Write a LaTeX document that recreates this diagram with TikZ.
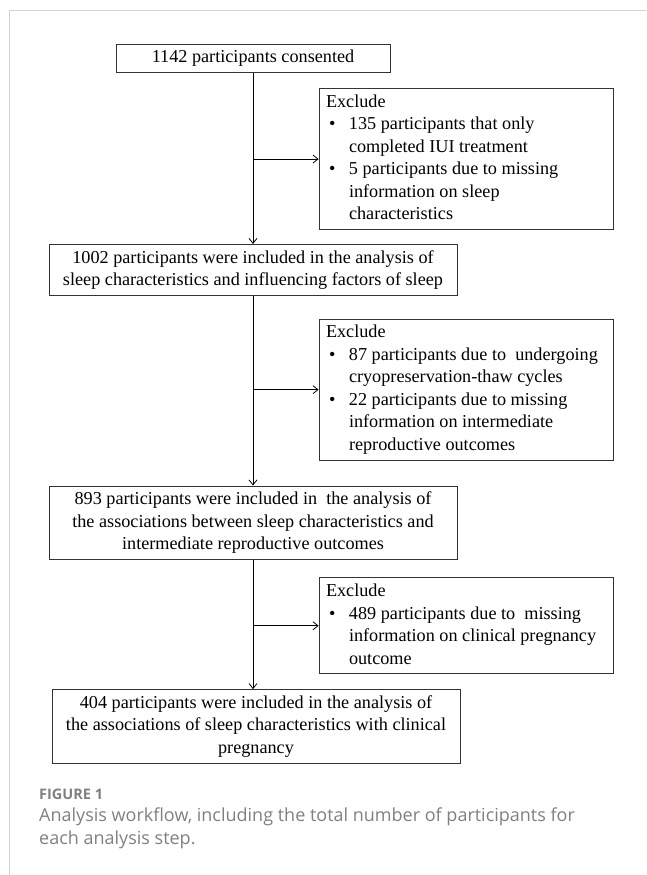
\documentclass[tikz,border=0pt]{standalone}
\usepackage{fontspec}
\setmainfont{Liberation Serif}
\newfontfamily\capfont{Open Sans}
\usepackage{xcolor}
\usepackage{tikz}
\usetikzlibrary{arrows.meta,positioning}

\definecolor{capgray}{HTML}{808080}
\definecolor{framegray}{HTML}{D3D3D3}
\newcommand{\exbul}{\makebox[23pt][l]{\hspace{3pt}\textbullet}}
\newcommand{\exind}{\hspace*{23pt}}

\begin{document}
\begin{tikzpicture}[
  x=1pt, y=-1pt,
  font=\fontsize{18.2}{22.5}\selectfont,
  stage/.style={draw=black!80, line width=0.8pt, align=flush center, text width=#1, inner xsep=4pt, inner ysep=3pt,
    execute at begin node=\strut, execute at end node=\strut},
  excl/.style={draw=black!80, line width=0.8pt, align=flush left, text width=280pt, inner xsep=7pt, inner ysep=3pt,
    execute at begin node=\strut, execute at end node=\strut},
  arr/.style={-{Straight Barb[length=5pt,width=8pt]}, line width=0.8pt},
  figlbl/.style={font=\capfont\bfseries\fontsize{14.5}{17}\selectfont, text=capgray, inner sep=0pt},
  figcap/.style={font=\capfont\fontsize{18}{22.5}\selectfont, text=capgray, align=flush left, inner sep=0pt}
]
\useasboundingbox (0,0) rectangle (646,875);
\draw[framegray, line width=1pt] (9,875) -- (9,11) -- (646,11);

\node[stage=266pt] (consent) at (253,58.5) {1142 participants consented};
\node[excl, below=15pt of consent, xshift=213pt] (exclA) {Exclude\\ \exbul 135 participants that only\\ \exind completed IUI treatment\\ \exbul 5 participants due to missing\\ \exind information on sleep\\ \exind characteristics};
\node[stage=400pt, below=14pt of exclA, xshift=-213pt] (incl) {1002 participants were included in the analysis of\\ sleep characteristics and influencing factors of sleep};
\node[excl, below=23pt of incl, xshift=213pt] (exclB) {Exclude\\ \exbul 87 participants due to~ undergoing\\ \exind cryopreservation-thaw cycles\\ \exbul 22 participants due to missing\\ \exind information on intermediate\\ \exind reproductive outcomes};
\node[stage=400pt, below=25pt of exclB, xshift=-213pt] (interm) {893 participants were included in~ the analysis of\\ the associations between sleep characteristics and\\ intermediate reproductive outcomes};
\node[excl, below=17.5pt of interm, xshift=213pt] (exclC) {Exclude\\ \exbul 489 participants due to~ missing\\ \exind information on clinical pregnancy\\ \exind outcome};
\node[stage=400pt, below=15pt of exclC, xshift=-210pt] (preg) {404 participants were included in the analysis of\\ the associations of sleep characteristics with clinical\\ pregnancy};

\draw[arr] (consent.south) -- (incl.north);
\draw[arr] (incl.south) -- (interm.north);
\draw[arr] (interm.south) -- (interm.south |- preg.north);
\draw[arr] (consent.south |- exclA.west) -- (exclA.west);
\draw[arr] (incl.south |- exclB.west) -- (exclB.west);
\draw[arr] (interm.south |- exclC.west) -- (exclC.west);

\node[figlbl, anchor=base west] (figno) at (39,799) {FIGURE 1};
\node[figcap, anchor=base west] (figtxt) at (39,844) {Analysis workflow, including the total number of participants for\\ each analysis step.};
\end{tikzpicture}
\end{document}
